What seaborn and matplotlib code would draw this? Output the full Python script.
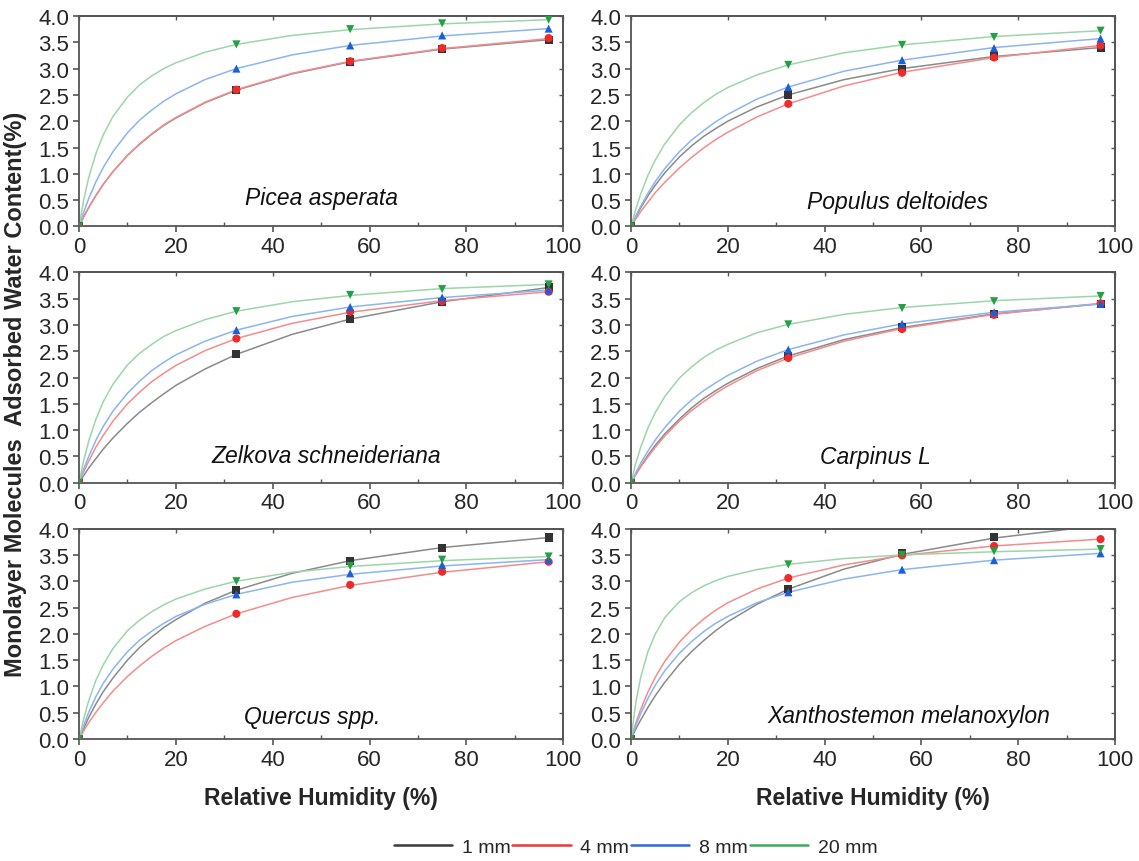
import numpy as np
import pandas as pd
import seaborn as sns
from matplotlib import pyplot as plt
from matplotlib.lines import Line2D
from matplotlib.ticker import MultipleLocator

SIZES = ['1 mm', '4 mm', '8 mm', '20 mm']
SPECIES = ['Picea asperata', 'Populus deltoides', 'Zelkova schneideriana',
           'Carpinus L', 'Quercus spp.', 'Xanthostemon melanoxylon']

# relative humidity of the measured points (%)
rh_points = [0, 32.5, 56, 75, 97]
rh_fit = [0, 1, 2, 3.5, 5, 7, 10, 12.5, 15, 17.5, 20, 26, 32.5, 44, 56, 75, 97]

# measured points, order: 1 mm, 4 mm, 8 mm, 20 mm
picea_pts = [[0, 2.59, 3.13, 3.37, 3.55],
             [0, 2.60, 3.14, 3.39, 3.58],
             [0, 3.00, 3.44, 3.63, 3.76],
             [0, 3.46, 3.75, 3.86, 3.93]]
populus_pts = [[0, 2.50, 3.00, 3.24, 3.40],
               [0, 2.33, 2.92, 3.21, 3.44],
               [0, 2.65, 3.16, 3.39, 3.57],
               [0, 3.07, 3.45, 3.60, 3.72]]
zelkova_pts = [[0, 2.44, 3.12, 3.44, 3.71],
               [0, 2.74, 3.25, 3.45, 3.63],
               [0, 2.90, 3.34, 3.52, 3.66],
               [0, 3.26, 3.57, 3.68, 3.77]]
carpinus_pts = [[0, 2.41, 2.96, 3.21, 3.40],
                [0, 2.37, 2.92, 3.19, 3.41],
                [0, 2.53, 3.02, 3.24, 3.40],
                [0, 3.01, 3.32, 3.45, 3.55]]
quercus_pts = [[0, 2.83, 3.39, 3.63, 3.83],
               [0, 2.38, 2.93, 3.18, 3.37],
               [0, 2.75, 3.15, 3.31, 3.41],
               [0, 3.00, 3.29, 3.41, 3.47]]
xantho_pts = [[0, 2.85, 3.53, 3.84, 4.06],
              [0, 3.06, 3.49, 3.67, 3.80],
              [0, 2.79, 3.22, 3.40, 3.53],
              [0, 3.32, 3.50, 3.57, 3.61]]

# fitted curves, same order
picea_fit = [[0, 0.19, 0.36, 0.59, 0.80, 1.04, 1.35, 1.56, 1.75, 1.92, 2.06, 2.35, 2.59, 2.90, 3.13, 3.37, 3.55],
             [0, 0.19, 0.36, 0.59, 0.80, 1.04, 1.35, 1.57, 1.76, 1.93, 2.07, 2.36, 2.60, 2.91, 3.14, 3.38, 3.57],
             [0, 0.28, 0.53, 0.85, 1.12, 1.42, 1.78, 2.02, 2.21, 2.38, 2.52, 2.79, 3.00, 3.26, 3.44, 3.62, 3.76],
             [0, 0.52, 0.93, 1.39, 1.74, 2.09, 2.46, 2.69, 2.86, 3.00, 3.11, 3.31, 3.46, 3.63, 3.74, 3.85, 3.93]]
populus_fit = [[0, 0.18, 0.35, 0.58, 0.78, 1.02, 1.32, 1.53, 1.71, 1.86, 2.00, 2.27, 2.50, 2.79, 3.00, 3.23, 3.40],
               [0, 0.14, 0.28, 0.46, 0.64, 0.84, 1.11, 1.31, 1.49, 1.65, 1.79, 2.08, 2.33, 2.67, 2.93, 3.21, 3.44],
               [0, 0.20, 0.38, 0.63, 0.85, 1.10, 1.42, 1.64, 1.82, 1.99, 2.13, 2.42, 2.65, 2.95, 3.16, 3.40, 3.57],
               [0, 0.33, 0.61, 0.97, 1.26, 1.57, 1.93, 2.16, 2.35, 2.51, 2.64, 2.88, 3.07, 3.30, 3.45, 3.61, 3.72]]
zelkova_fit = [[0, 0.14, 0.28, 0.46, 0.64, 0.85, 1.13, 1.34, 1.52, 1.69, 1.85, 2.16, 2.44, 2.82, 3.11, 3.44, 3.71],
               [0, 0.22, 0.41, 0.68, 0.90, 1.17, 1.50, 1.72, 1.92, 2.08, 2.23, 2.51, 2.74, 3.03, 3.24, 3.46, 3.63],
               [0, 0.27, 0.50, 0.81, 1.07, 1.36, 1.70, 1.93, 2.13, 2.29, 2.43, 2.69, 2.90, 3.16, 3.34, 3.52, 3.66],
               [0, 0.44, 0.79, 1.21, 1.54, 1.87, 2.24, 2.46, 2.63, 2.78, 2.89, 3.10, 3.26, 3.44, 3.56, 3.69, 3.77]]
carpinus_fit = [[0, 0.16, 0.31, 0.52, 0.71, 0.93, 1.21, 1.42, 1.60, 1.75, 1.89, 2.17, 2.41, 2.72, 2.95, 3.21, 3.40],
                [0, 0.15, 0.30, 0.49, 0.67, 0.89, 1.17, 1.37, 1.54, 1.70, 1.84, 2.13, 2.37, 2.69, 2.93, 3.20, 3.41],
                [0, 0.19, 0.37, 0.60, 0.81, 1.05, 1.36, 1.57, 1.75, 1.90, 2.04, 2.31, 2.53, 2.81, 3.02, 3.24, 3.40],
                [0, 0.37, 0.67, 1.04, 1.33, 1.64, 1.99, 2.20, 2.38, 2.52, 2.63, 2.85, 3.01, 3.20, 3.33, 3.46, 3.55]]
quercus_fit = [[0, 0.21, 0.41, 0.67, 0.90, 1.16, 1.50, 1.74, 1.94, 2.12, 2.27, 2.58, 2.83, 3.15, 3.39, 3.64, 3.83],
               [0, 0.16, 0.31, 0.51, 0.69, 0.91, 1.19, 1.39, 1.57, 1.73, 1.87, 2.14, 2.38, 2.69, 2.92, 3.17, 3.37],
               [0, 0.27, 0.51, 0.81, 1.06, 1.33, 1.66, 1.88, 2.05, 2.20, 2.33, 2.56, 2.75, 2.98, 3.13, 3.29, 3.41],
               [0, 0.40, 0.73, 1.12, 1.41, 1.72, 2.06, 2.26, 2.42, 2.55, 2.66, 2.85, 3.00, 3.17, 3.28, 3.39, 3.47]]
xantho_fit = [[0, 0.19, 0.36, 0.60, 0.82, 1.08, 1.42, 1.66, 1.87, 2.06, 2.23, 2.56, 2.85, 3.23, 3.51, 3.82, 4.06],
              [0, 0.30, 0.56, 0.89, 1.17, 1.48, 1.84, 2.08, 2.28, 2.45, 2.59, 2.85, 3.06, 3.31, 3.49, 3.67, 3.80],
              [0, 0.26, 0.48, 0.77, 1.02, 1.30, 1.63, 1.85, 2.04, 2.20, 2.33, 2.59, 2.79, 3.04, 3.22, 3.40, 3.53],
              [0, 0.69, 1.17, 1.66, 1.99, 2.31, 2.61, 2.78, 2.91, 3.01, 3.09, 3.22, 3.32, 3.43, 3.50, 3.56, 3.61]]

all_pts = [picea_pts, populus_pts, zelkova_pts, carpinus_pts, quercus_pts, xantho_pts]
all_fit = [picea_fit, populus_fit, zelkova_fit, carpinus_fit, quercus_fit, xantho_fit]

point_colors = {'1 mm': '#333333', '4 mm': '#ee2a2a', '8 mm': '#1c5fd8', '20 mm': '#23a043'}
curve_colors = {'1 mm': '#8a8a8a', '4 mm': '#f38c8c', '8 mm': '#8ab5f0', '20 mm': '#9cd6a8'}
legend_colors = ['#3a3a3a', '#e8393c', '#2a6ad8', '#3aaa5c']
markers = {'1 mm': 's', '4 mm': 'o', '8 mm': '^', '20 mm': 'v'}

# where the species name sits in each panel (data coords)
label_pos = [(50, 0.55), (55, 0.48), (51, 0.52), (50.6, 0.5), (48.2, 0.42), (57.4, 0.44)]

rows_p, rows_f = [], []
for sp, pts, fit in zip(SPECIES, all_pts, all_fit):
    for size, p, f in zip(SIZES, pts, fit):
        rows_p += [(sp, size, x, y) for x, y in zip(rh_points, p)]
        rows_f += [(sp, size, x, y) for x, y in zip(rh_fit, f)]
df_pts = pd.DataFrame(rows_p, columns=['species', 'size', 'rh', 'water'])
df_fit = pd.DataFrame(rows_f, columns=['species', 'size', 'rh', 'water'])

sns.set_theme(style='ticks')
plt.rcParams['font.family'] = ['Liberation Sans', 'DejaVu Sans']
plt.rcParams['axes.edgecolor'] = '#555555'

fig, axs = plt.subplots(3, 2, figsize=(11.39, 8.62), dpi=100)
fig.subplots_adjust(left=0.0694, right=0.979, bottom=0.1415, top=0.9803,
                    wspace=0.14, hspace=0.218)

for i, ax in enumerate(axs.flat):
    sp = SPECIES[i]
    sns.lineplot(data=df_fit[df_fit['species'] == sp], x='rh', y='water', hue='size',
                 hue_order=SIZES, palette=curve_colors, linewidth=1.1, sort=False,
                 estimator=None, legend=False, ax=ax)
    sns.scatterplot(data=df_pts[df_pts['species'] == sp], x='rh', y='water', hue='size',
                    style='size', hue_order=SIZES, style_order=SIZES, markers=markers,
                    palette=point_colors, s=34, linewidth=0, legend=False, ax=ax, zorder=3)

    ax.set_xlim(0, 100)
    ax.set_ylim(0, 4.0)
    ax.set_xticks(range(0, 101, 20))
    ax.set_yticks(np.arange(0, 4.01, 0.5))
    ax.set_yticklabels([f'{v:.1f}' for v in np.arange(0, 4.01, 0.5)])
    ax.xaxis.set_minor_locator(MultipleLocator(10))
    ax.tick_params(which='major', direction='out', length=4, width=1.2,
                   color='#555555', labelsize=16, pad=3)
    ax.tick_params(axis='x', which='minor', direction='in', length=3, width=1.0, color='#555555')
    for s in ax.spines.values():
        s.set_visible(True)
        s.set_linewidth(1.3)
    ax.set_xlabel('')
    ax.set_ylabel('')

    sec_y = ax.secondary_yaxis('right')
    sec_y.set_yticks(np.arange(0, 4.01, 0.5))
    sec_y.tick_params(direction='in', length=3, width=1.0, color='#555555', labelright=False)
    sec_x = ax.secondary_xaxis('top')
    sec_x.set_xticks(range(0, 101, 20))
    sec_x.tick_params(direction='in', length=3, width=1.0, color='#555555', labeltop=False)

    lx, ly = label_pos[i]
    ax.text(lx, ly, sp, style='italic', fontsize=16.5, ha='center', va='center', color='#111111')

for ax in axs[2]:
    ax.set_xlabel('Relative Humidity (%)', fontsize=16.5, fontweight='bold', labelpad=12)

fig.text(0.014, 0.543, 'Monolayer Molecules  Adsorbed Water Content(%)', rotation=90,
         fontsize=17, fontweight='bold', ha='center', va='center')

handles = [Line2D([0], [0], color=c, linewidth=1.8) for c in legend_colors]
fig.legend(handles, SIZES, loc='center', bbox_to_anchor=(0.558, 0.0165), ncol=4,
           frameon=False, handlelength=3.0, handletextpad=0.5, columnspacing=0.1,
           fontsize=14)

plt.savefig('out.png', dpi=100)
